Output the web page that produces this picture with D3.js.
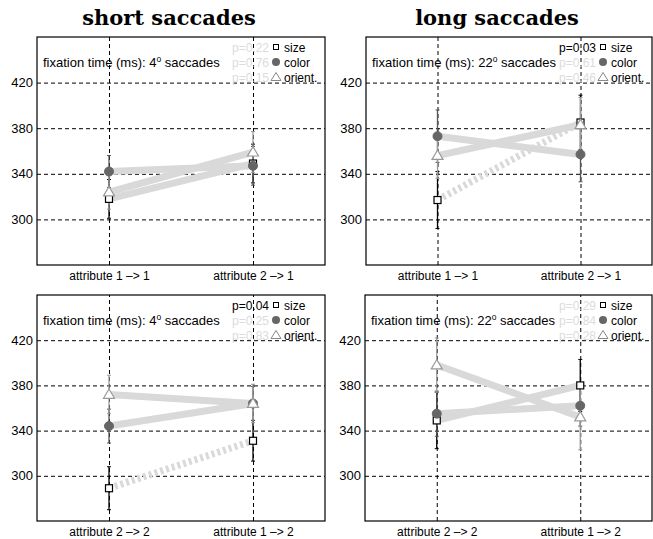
<!DOCTYPE html>
<html><head><meta charset="utf-8">
<script src="https://cdn.jsdelivr.net/npm/d3@7"></script>
<style>body{margin:0;background:#fff}svg{display:block}</style>
</head><body>
<script>
// ---- data ----
const titles = ["short saccades", "long saccades"];
const catsTop = ["attribute 1 \u2013> 1", "attribute 2 \u2013> 1"];
const catsBottom = ["attribute 2 \u2013> 2", "attribute 1 \u2013> 2"];
const seriesNames = ["size", "color", "orient."];
const yTicks = [300, 340, 380, 420];
const degrees = [4, 22, 4, 22];

// values per panel: [size, color, orient] x [cat1, cat2]
const shortTopSize = [318, 349], shortTopColor = [342, 347], shortTopOrient = [324, 359];
const shortTopErrSize = [17, 17], shortTopErrColor = [14, 17], shortTopErrOrient = [15, 18];
const longTopSize = [317, 385], longTopColor = [373, 357], longTopOrient = [356, 383];
const longTopErrSize = [25, 24], longTopErrColor = [23, 24], longTopErrOrient = [20, 24];
const shortBotSize = [289, 331], shortBotColor = [344, 364], shortBotOrient = [372, 364];
const shortBotErrSize = [19, 18], shortBotErrColor = [15, 15], shortBotErrOrient = [17, 17];
const longBotSize = [349, 380], longBotColor = [355, 362], longBotOrient = [398, 352];
const longBotErrSize = [25, 23], longBotErrColor = [20, 18], longBotErrOrient = [24, 29];
const pShortTop = ["0.22", "0.76", "0.15"];
const pLongTop = ["0.03", "0.61", "0.46"];
const pShortBot = ["0.04", "0.25", "0.83"];
const pLongBot = ["0.29", "0.84", "0.28"];

const panels = [
  {box:[37,37,325,265], cats:catsTop, vals:[shortTopSize,shortTopColor,shortTopOrient], errs:[shortTopErrSize,shortTopErrColor,shortTopErrOrient], p:pShortTop, deg:degrees[0]},
  {box:[366,37,652,265], cats:catsTop, vals:[longTopSize,longTopColor,longTopOrient], errs:[longTopErrSize,longTopErrColor,longTopErrOrient], p:pLongTop, deg:degrees[1]},
  {box:[37,295,325,521], cats:catsBottom, vals:[shortBotSize,shortBotColor,shortBotOrient], errs:[shortBotErrSize,shortBotErrColor,shortBotErrOrient], p:pShortBot, deg:degrees[2]},
  {box:[365,295,652,521], cats:catsBottom, vals:[longBotSize,longBotColor,longBotOrient], errs:[longBotErrSize,longBotErrColor,longBotErrOrient], p:pLongBot, deg:degrees[3]},
];

const W = 653, H = 539;
const svg = d3.select("body").append("svg").attr("width", W).attr("height", H)
  .style("font-family", "'Liberation Sans', Arial, sans-serif");

// titles
svg.append("text").attr("x", 169).attr("y", 25).attr("text-anchor", "middle")
  .style("font-family", "'DejaVu Serif', serif").style("font-weight", "bold").style("font-size", "21px")
  .text(titles[0]);
svg.append("text").attr("x", 497).attr("y", 25).attr("text-anchor", "middle")
  .style("font-family", "'DejaVu Serif', serif").style("font-weight", "bold").style("font-size", "21px")
  .text(titles[1]);

const errColors = ["#000", "#555", "#999"];

panels.forEach(pn => {
  const [x0, y0, x1, y1] = pn.box;
  const x = d3.scaleLinear().domain([0.5, 2.5]).range([x0, x1]);
  const y = d3.scaleLinear().domain([260, 460]).range([y1, y0]);
  const g = svg.append("g");

  // horizontal grid + labels
  const ya = g.append("g").attr("transform", `translate(${x0},0)`)
    .call(d3.axisLeft(y).tickValues(yTicks).tickSize(-(x1 - x0)).tickPadding(4).tickFormat(d3.format("d")));
  ya.select(".domain").remove();
  ya.selectAll(".tick line").attr("stroke", "#000").attr("stroke-dasharray", "4,3");
  ya.selectAll(".tick text").style("font-size", "13px").style("font-family", "'Liberation Sans', Arial, sans-serif").attr("fill", "#000");

  // vertical grid + labels
  const xa = g.append("g").attr("transform", `translate(0,${y1})`)
    .call(d3.axisBottom(x).tickValues([1, 2]).tickSize(-(y1 - y0)).tickPadding(6).tickFormat((d, i) => pn.cats[i]));
  xa.select(".domain").remove();
  xa.selectAll(".tick line").attr("stroke", "#000").attr("stroke-dasharray", "4,3");
  xa.selectAll(".tick text").style("font-size", "12px").style("font-family", "'Liberation Sans', Arial, sans-serif").attr("fill", "#000");

  // series lines
  const line = d3.line().x((d, i) => x(i + 1)).y(d => y(d));
  pn.vals.forEach((v, si) => {
    const sig = parseFloat(pn.p[si]) < 0.05;
    g.append("path").attr("d", line(v)).attr("fill", "none")
      .attr("stroke", "#d9d9d9").attr("stroke-width", 7)
      .attr("stroke-dasharray", sig ? "3,3" : null);
  });

  // error bars
  pn.vals.forEach((v, si) => {
    v.forEach((val, ci) => {
      const e = pn.errs[si][ci];
      const cx = x(ci + 1);
      g.append("line").attr("x1", cx).attr("x2", cx).attr("y1", y(val - e)).attr("y2", y(val + e))
        .attr("stroke", errColors[si]).attr("stroke-width", 1.3);
      [val - e, val + e].forEach(t => g.append("line").attr("x1", cx - 2).attr("x2", cx + 2)
        .attr("y1", y(t)).attr("y2", y(t)).attr("stroke", errColors[si]).attr("stroke-width", 1));
    });
  });

  // markers
  const drawMarker = (si, cx, cy) => {
    if (si === 0) {
      g.append("rect").attr("x", cx - 3.5).attr("y", cy - 3.5).attr("width", 7).attr("height", 7)
        .attr("fill", "#fff").attr("stroke", "#000").attr("stroke-width", 1.2);
    } else if (si === 1) {
      g.append("circle").attr("cx", cx).attr("cy", cy).attr("r", 4.5).attr("fill", "#666").attr("stroke", "#666");
    } else {
      const s = 5.5;
      g.append("path").attr("d", `M${cx},${cy - s}L${cx + s},${cy + s * 0.7}L${cx - s},${cy + s * 0.7}Z`)
        .attr("fill", "#fff").attr("stroke", "#999").attr("stroke-width", 1.2);
    }
  };
  pn.vals.forEach((v, si) => v.forEach((val, ci) => drawMarker(si, x(ci + 1), y(val))));

  // box
  g.append("rect").attr("x", x0).attr("y", y0).attr("width", x1 - x0).attr("height", y1 - y0)
    .attr("fill", "none").attr("stroke", "#000").attr("stroke-width", 1.2);

  // annotation
  const ann = g.append("text").attr("x", x0 + 6).attr("y", y0 + 30).style("font-size", "13px");
  ann.append("tspan").text(`fixation time (ms): ${pn.deg}`);
  ann.append("tspan").attr("dy", -5).style("font-size", "8.5px").text("o");
  ann.append("tspan").attr("dy", 5).text(" saccades");

  // legend
  seriesNames.forEach((nm, si) => {
    const ly = y0 + 10 + si * 15;
    const sig = parseFloat(pn.p[si]) < 0.05;
    g.append("text").attr("x", x1 - 56).attr("y", ly + 4.5).attr("text-anchor", "end")
      .style("font-size", "12px").attr("fill", sig ? "#000" : "#dcdcdc").text("p=" + pn.p[si]);
    const mx = x1 - 49;
    if (si === 0) {
      g.append("rect").attr("x", mx - 2.5).attr("y", ly - 2.5).attr("width", 5).attr("height", 5)
        .attr("fill", "#fff").attr("stroke", "#000").attr("stroke-width", 1);
    } else if (si === 1) {
      g.append("circle").attr("cx", mx).attr("cy", ly).attr("r", 4).attr("fill", "#666");
    } else {
      g.append("path").attr("d", `M${mx},${ly - 4.5}L${mx + 5},${ly + 3.5}L${mx - 5},${ly + 3.5}Z`)
        .attr("fill", "#fff").attr("stroke", "#888").attr("stroke-width", 1);
    }
    g.append("text").attr("x", x1 - 41).attr("y", ly + 4.5).style("font-size", "12px").attr("fill", "#000").text(nm);
  });
});
</script>
</body></html>
